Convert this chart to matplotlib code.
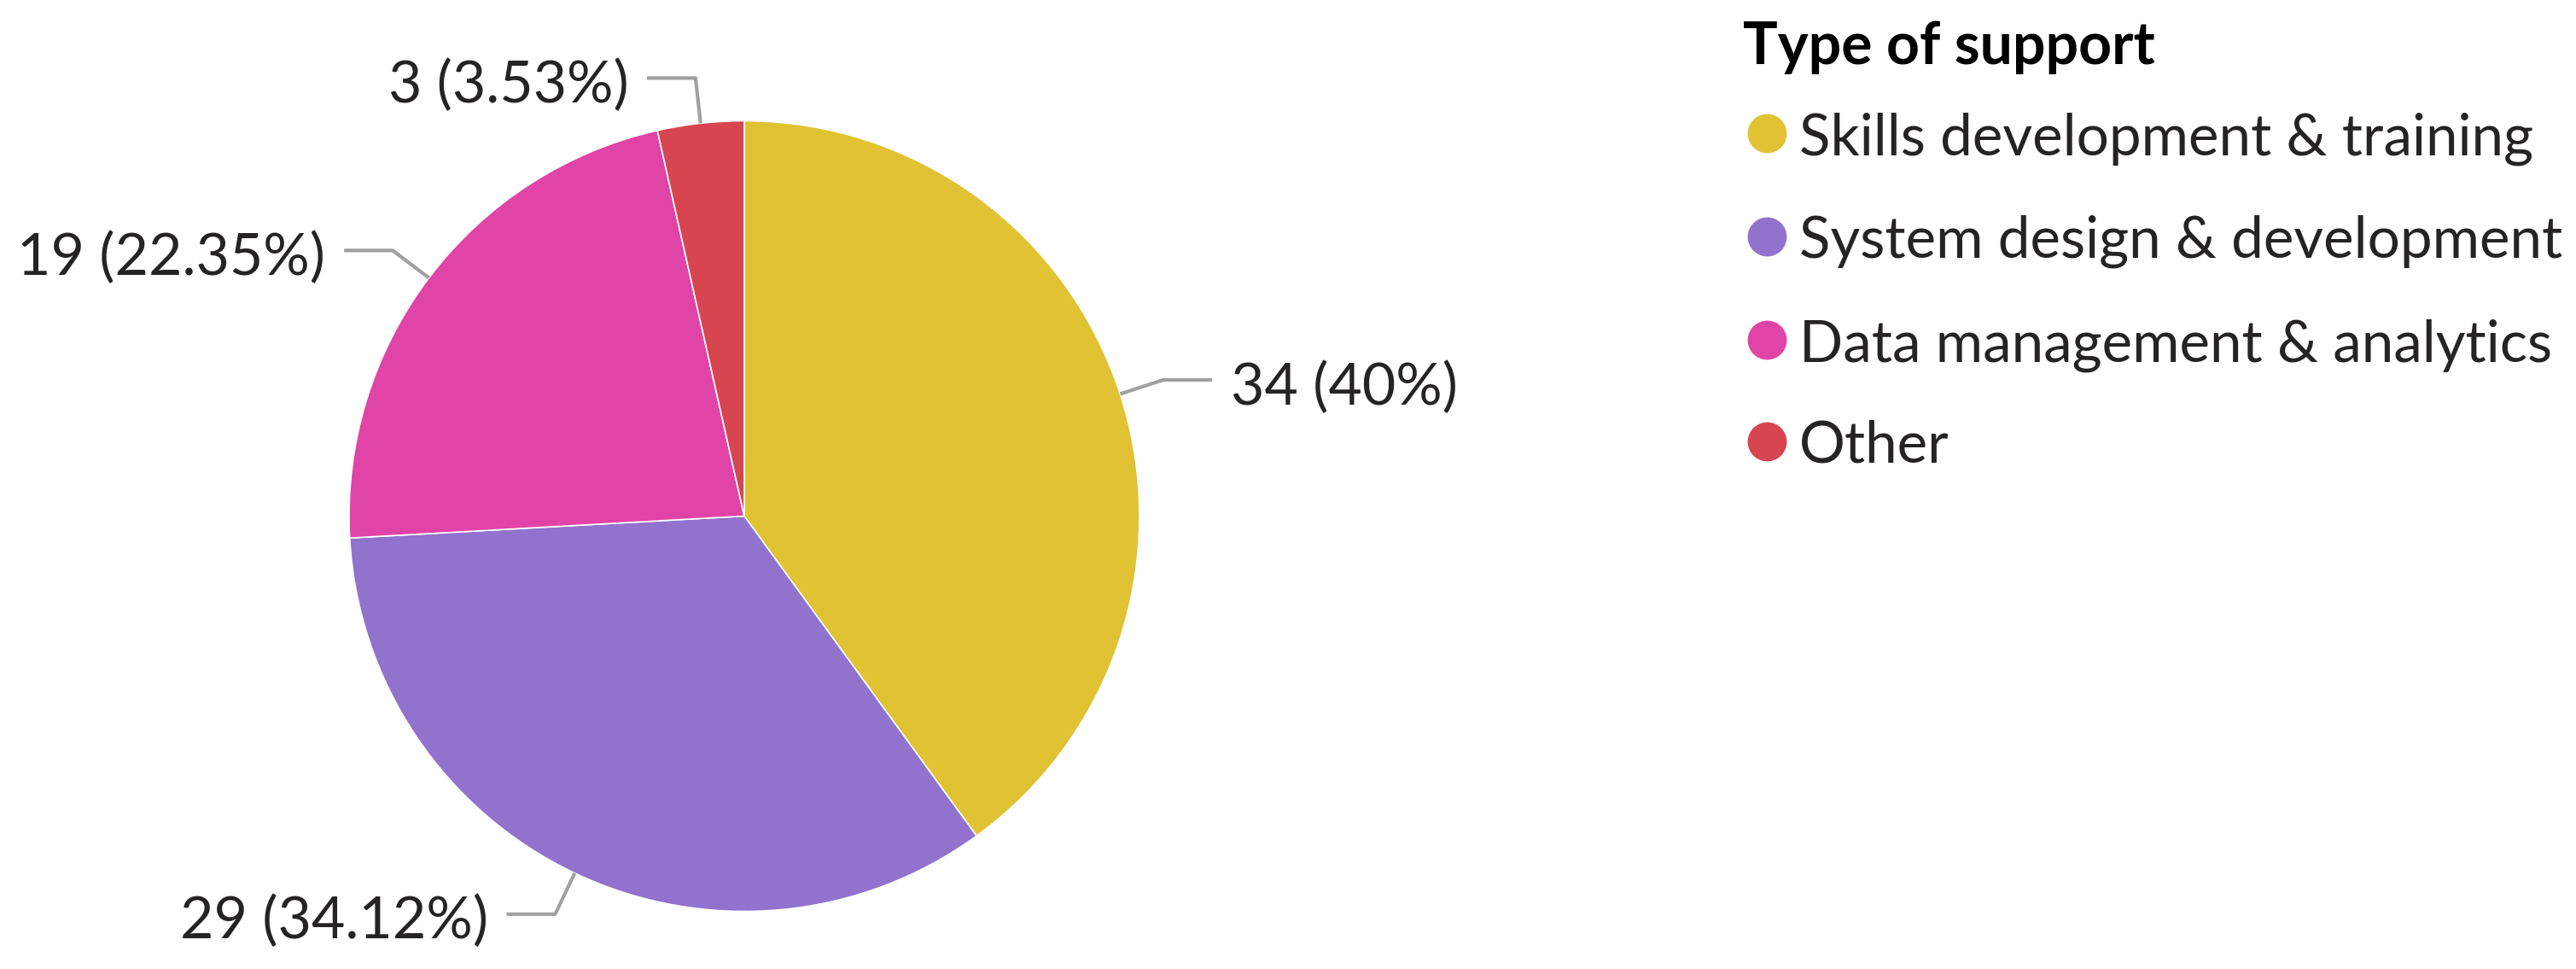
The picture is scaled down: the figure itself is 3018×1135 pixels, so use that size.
import numpy as np
import matplotlib
matplotlib.use("Agg")
import matplotlib.pyplot as plt

plt.rcParams['font.family'] = ['Lato', 'DejaVu Sans']

# data
categories = ['Skills development & training', 'System design & development',
              'Data management & analytics', 'Other']
counts = [34, 29, 19, 3]
percent_labels = ['40%', '34.12%', '22.35%', '3.53%']
colors = ['#E1C233', '#9173CD', '#E044A7', '#D64550']
legend_title = 'Type of support'

W, H = 3018, 1135
fig = plt.figure(figsize=(W / 100, H / 100), dpi=100)

# pie axes: centre (872, 604.5) px, radius 463 px
cx, cy, r = 872, 604.5, 463
ax = fig.add_axes([(cx - r) / W, (H - cy - r) / H, 2 * r / W, 2 * r / H])
wedges, _ = ax.pie(counts, colors=colors, startangle=90, counterclock=False,
                   radius=1.0, wedgeprops=dict(edgecolor='white', linewidth=1.2))
ax.set_xlim(-1, 1)
ax.set_ylim(-1, 1)
ax.set_aspect('equal')
ax.axis('off')

# leader lines + data labels
for w, n, p in zip(wedges, counts, percent_labels):
    mid = np.deg2rad((w.theta1 + w.theta2) / 2)
    x0, y0 = np.cos(mid), np.sin(mid)
    x1, y1 = 1.115 * x0, 1.115 * y0
    side = 1 if x0 >= 0 else -1
    x2 = x1 + side * 0.123
    ax.plot([x0, x1, x2], [y0, y1, y1], color='#A0A0A0', lw=3,
            solid_capstyle='butt', clip_on=False)
    ax.text(x2 + side * 0.047, y1 - 0.062, f'{n} ({p})', fontsize=49,
            color='#252423', ha='left' if side > 0 else 'right',
            va='baseline')

# legend drawn in pixel space
lax = fig.add_axes([0, 0, 1, 1])
lax.set_xlim(0, W)
lax.set_ylim(H, 0)
lax.axis('off')
lax.text(2042, 75, legend_title, fontsize=49, fontweight='bold',
         color='#000000', va='baseline', ha='left')
ys = [156, 277, 398, 517]
for y, lab, c in zip(ys, categories, colors):
    lax.plot([2070], [y], marker='o', markersize=33, color=c,
             markeredgewidth=0)
    lax.text(2108, y + 25, lab, fontsize=48.5, color='#252423',
             va='baseline', ha='left')

fig.savefig('out.png', dpi=100, facecolor='white')
